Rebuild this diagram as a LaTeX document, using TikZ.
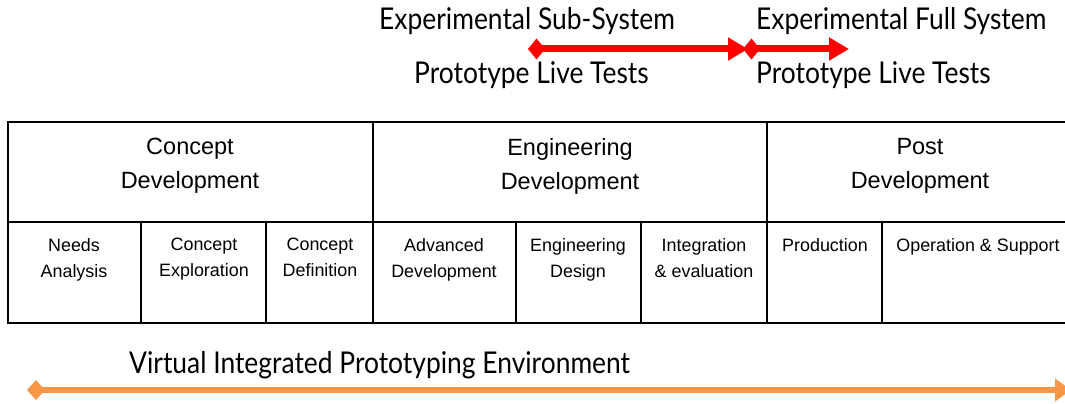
\documentclass[tikz,border=0pt]{standalone}
\usepackage{fontspec}
\setmainfont{Liberation Sans}
\newfontfamily\gillfont[FakeStretch=0.88]{Lato}
\usetikzlibrary{arrows.meta}
\definecolor{redarrow}{HTML}{FF0000}
\definecolor{orangearrow}{HTML}{F79646}
\tikzset{
  x=1pt, y=-1pt,
  toplabel/.style={font=\gillfont\fontsize{30}{34}\selectfont, anchor=base west, inner sep=0pt},
  phasetext/.style={font=\fontsize{23.5}{34}\selectfont, align=center, inner sep=0pt, anchor=north},
  subtext/.style={font=\fontsize{17.9}{26}\selectfont, align=center, inner sep=0pt, anchor=north},
  tableline/.style={line width=1.3pt, black},
  redline/.style={redarrow, line width=7pt, {Diamond[length=17pt,width=21pt]}-{Triangle[length=20pt,width=22pt]}},
  orangeline/.style={orangearrow, line width=6pt, {Diamond[length=18pt,width=20pt]}-{Triangle[length=16pt,width=22pt]}},
}
\begin{document}
\begin{tikzpicture}
\useasboundingbox (0,0) rectangle (1065,404);
% top labels
\node[toplabel] (ess) at (379,30) {Experimental Sub-System};
\node[toplabel] (plt1) at (414,83) {Prototype Live Tests};
\node[toplabel] (efs) at (756,30) {Experimental Full System};
\node[toplabel] (plt2) at (756,83) {Prototype Live Tests};
\coordinate (r1a) at (528,49);
\coordinate (r1b) at (748,49);
\coordinate (r2a) at (743,49);
\coordinate (r2b) at (849,49);
\draw[redline] (r1a) -- (r1b);
\draw[redline] (r2a) -- (r2b);
% table
\draw[tableline] (1070,122) -- (8,122) -- (8,323) -- (1070,323);
\draw[tableline] (8,222) -- (1070,222);
\foreach \x in {373,767} \draw[tableline] (\x,122) -- (\x,323);
\foreach \x in {141,266,516,641,882} \draw[tableline] (\x,222) -- (\x,323);
\node[phasetext] (cd) at (190,138) {Concept\\Development};
\node[phasetext] (ed) at (570,138) {Engineering\\Development};
\node[phasetext] (pd) at (920,138) {Post\\Development};
\node[subtext] (na) at (74,238) {Needs\\Analysis};
\node[subtext] (ce) at (204,238) {Concept\\Exploration};
\node[subtext] (cdf) at (320,238) {Concept\\Definition};
\node[subtext] (ad) at (444,238) {Advanced\\Development};
\node[subtext] (eg) at (578,238) {Engineering\\Design};
\node[subtext] (ie) at (704,238) {Integration\\\& evaluation};
\node[subtext] (pr) at (825,238) {Production};
\node[subtext] (os) at (978,238) {Operation \& Support};
% bottom
\node[toplabel] (vipe) at (129,373) {Virtual Integrated Prototyping Environment};
\coordinate (o1) at (27,390);
\coordinate (o2) at (1071,390);
\draw[orangeline] (o1) -- (o2);
\end{tikzpicture}
\end{document}
